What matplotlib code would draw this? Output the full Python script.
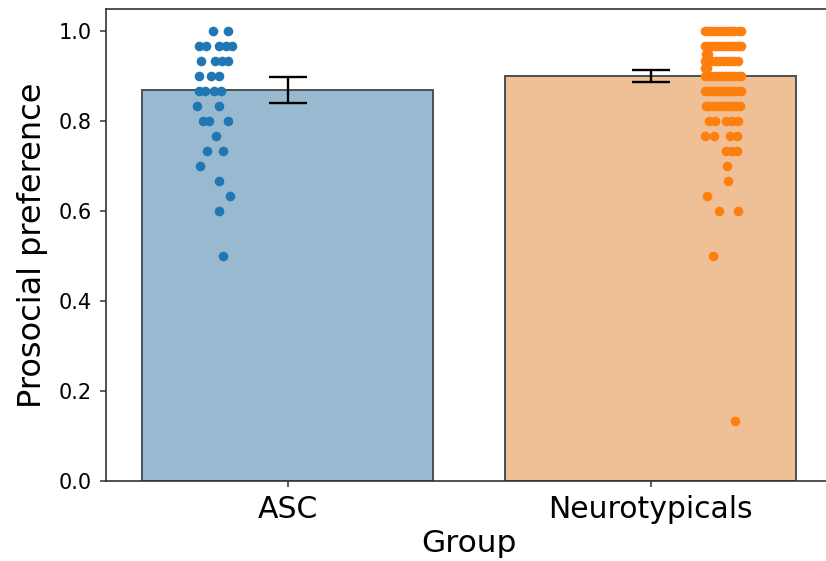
import matplotlib
matplotlib.use("Agg")
import matplotlib.pyplot as plt
import numpy as np

# ---- data ----
groups = ["ASC", "Neurotypicals"]
bar_means = [0.869, 0.900]
err_low = [0.839, 0.887]
err_high = [0.897, 0.913]

asc_values = [1.0, 1.0,
              0.967, 0.967, 0.967, 0.967, 0.967,
              0.933, 0.933, 0.933, 0.933,
              0.9, 0.9, 0.9,
              0.867, 0.867, 0.867, 0.867,
              0.833, 0.833,
              0.8, 0.8, 0.8,
              0.767,
              0.733, 0.733,
              0.7, 0.667, 0.633, 0.6, 0.5]
asc_jitter = [-0.004, 0.037,
              -0.045, -0.025, 0.010, 0.031, 0.047,
              -0.038, 0.001, 0.020, 0.035,
              -0.043, -0.011, 0.010,
              -0.043, -0.026, -0.002, 0.017,
              -0.048, 0.010,
              -0.034, -0.017, 0.035,
              0.003,
              -0.023, 0.021,
              -0.040, 0.012, 0.042, 0.010, 0.021]

nt_values = ([1.0] * 12 + [0.967] * 12 + [0.95] * 2 + [0.933] * 10 + [0.917] * 2
             + [0.9] * 12 + [0.867] * 11 + [0.833] * 10 + [0.8] * 5 + [0.767] * 4
             + [0.733] * 3 + [0.7, 0.667, 0.633, 0.6, 0.6, 0.5, 0.133])
nt_jitter = [-0.050, -0.041, -0.032, -0.023, -0.014, -0.005, 0.004, 0.013, 0.022, 0.031, 0.040, 0.050,
             -0.049, -0.040, -0.031, -0.022, -0.013, -0.004, 0.005, 0.014, 0.023, 0.032, 0.041, 0.050,
             -0.048, -0.041,
             -0.050, -0.040, -0.030, -0.020, -0.010, 0.000, 0.010, 0.020, 0.030, 0.040,
             -0.049, -0.043,
             -0.050, -0.041, -0.032, -0.023, -0.014, -0.005, 0.004, 0.013, 0.022, 0.031, 0.040, 0.050,
             -0.049, -0.039, -0.029, -0.019, -0.009, 0.001, 0.011, 0.021, 0.031, 0.041, 0.049,
             -0.048, -0.038, -0.027, -0.017, -0.006, 0.004, 0.015, 0.025, 0.036, 0.046,
             -0.038, -0.021, 0.009, 0.025, 0.042,
             -0.049, -0.024, 0.020, 0.039,
             0.009, 0.025, 0.039,
             0.012, 0.014, -0.044, -0.010, 0.040, -0.029, 0.033]

point_values = [asc_values, nt_values]
point_jitter = [asc_jitter, nt_jitter]

# ---- styling ----
bar_colors = ["#3274a1", "#e1812c"]
dot_colors = ["#1f77b4", "#ff7f0e"]
dodge = [-0.2, 0.2]

fig = plt.figure(figsize=(8.26, 5.61), dpi=100)
ax = fig.add_axes([106 / 826, 80 / 561, 726 / 826, 472.5 / 561])

x = np.arange(len(groups))
ax.bar(x, bar_means, width=0.8, color=bar_colors, alpha=0.5, zorder=1)
ax.bar(x, bar_means, width=0.8, facecolor="none", edgecolor="#4a4f52",
       linewidth=1.4, zorder=1.5)

yerr = [np.array(bar_means) - np.array(err_low), np.array(err_high) - np.array(bar_means)]
ax.errorbar(x, bar_means, yerr=yerr, fmt="none", ecolor="black",
            elinewidth=1.7, capsize=14, capthick=1.7, zorder=3)

for i in range(len(groups)):
    xs = x[i] + dodge[i] + np.array(point_jitter[i])
    ax.scatter(xs, point_values[i], s=48, color=dot_colors[i], linewidths=0, zorder=4)

ax.set_xlim(-0.5, 1.5)
ax.set_ylim(0, 1.05)
ax.set_xticks(x)
ax.set_xticklabels(groups, fontsize=21.5)
ax.set_yticks([0.0, 0.2, 0.4, 0.6, 0.8, 1.0])
ax.set_yticklabels(["0.0", "0.2", "0.4", "0.6", "0.8", "1.0"], fontsize=15)
ax.tick_params(axis="both", length=4, width=1.1, color="#333333")
ax.tick_params(axis="y", pad=6)
ax.tick_params(axis="x", pad=6)
ax.set_ylabel("Prosocial preference", fontsize=23, labelpad=8)
ax.set_xlabel("Group", fontsize=22.5, labelpad=4)
for s in ax.spines.values():
    s.set_linewidth(1.2)
    s.set_color("#333333")
ax.spines["right"].set_visible(False)

fig.savefig("out.png", dpi=100)
